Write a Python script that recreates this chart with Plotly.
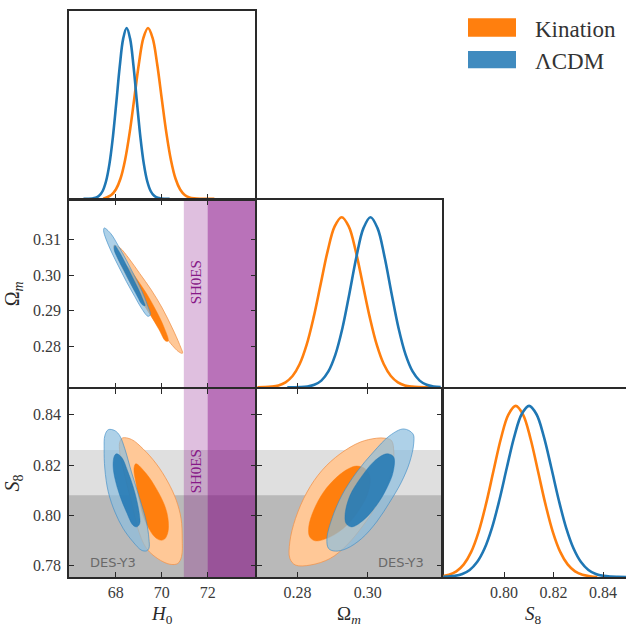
import plotly.graph_objects as go

# ---------------- data ----------------
models = ["Kination", "ΛCDM"]
param_labels = ["<i>H</i><sub>0</sub>", "Ω<sub><i>m</i></sub>", "<i>S</i><sub>8</sub>"]

h0_range = [65.96, 74.07]
om_range = [0.2684, 0.3211]
s8_range = [0.7754, 0.8504]

h0_ticks = [68, 70, 72]
om_ticks_x = [0.28, 0.30]
om_ticks_y = [0.28, 0.29, 0.30, 0.31]
s8_ticks_y = [0.78, 0.80, 0.82, 0.84]
s8_ticks_x = [0.80, 0.82, 0.84]

# external constraints
shoes_mean, shoes_sigma = 73.04, 1.04
des_mean, des_sigma = 0.790, 0.018

# 1D marginals (normalised to peak 1)
h0_kin_x = [67.45, 67.60, 67.80, 68.00, 68.20, 68.40, 68.60, 68.80, 69.00, 69.20, 69.40, 69.60,
            69.80, 70.00, 70.20, 70.40, 70.60, 70.80, 71.00, 71.20, 71.40, 71.70, 72.29]
h0_kin_p = [0, 0.008, 0.022, 0.054, 0.117, 0.226, 0.386, 0.585, 0.788, 0.942, 1.0, 0.942,
            0.788, 0.585, 0.386, 0.226, 0.117, 0.054, 0.022, 0.008, 0.0026, 0.0003, 0]
h0_lcdm_x = [66.59, 66.97, 67.12, 67.27, 67.42, 67.57, 67.72, 67.87, 68.02, 68.17, 68.32, 68.47,
             68.62, 68.77, 68.92, 69.07, 69.22, 69.37, 69.52, 69.67, 69.82, 69.97, 70.34]
h0_lcdm_p = [0, 0.0017, 0.0057, 0.017, 0.044, 0.101, 0.203, 0.360, 0.563, 0.775, 0.938, 1.0,
             0.938, 0.775, 0.563, 0.360, 0.203, 0.101, 0.044, 0.017, 0.0057, 0.0017, 0]

om_kin_x = [0.2686, 0.2706, 0.2726, 0.2746, 0.2766, 0.2786, 0.2806, 0.2826, 0.2846, 0.2866, 0.2886, 0.2906,
            0.2926, 0.2946, 0.2966, 0.2986, 0.3006, 0.3026, 0.3046, 0.3066, 0.3086, 0.3106, 0.3126,
            0.3146, 0.3166, 0.3190]
om_kin_p = [0.0003, 0.0012, 0.0039, 0.011, 0.029, 0.066, 0.135, 0.249, 0.411, 0.606, 0.801, 0.946,
            1.0, 0.946, 0.801, 0.606, 0.411, 0.249, 0.135, 0.066, 0.029, 0.011, 0.0039,
            0.0012, 0.0003, 0]
om_lcdm_x = [0.2771, 0.2788, 0.2808, 0.2828, 0.2848, 0.2868, 0.2888, 0.2908, 0.2928, 0.2948, 0.2968, 0.2988,
             0.3008, 0.3028, 0.3048, 0.3068, 0.3088, 0.3108, 0.3128, 0.3148, 0.3168, 0.3188, 0.3208]
om_lcdm_p = [0, 0.0003, 0.0013, 0.0047, 0.0145, 0.039, 0.093, 0.192, 0.347, 0.552, 0.768, 0.936,
             1.0, 0.936, 0.768, 0.552, 0.347, 0.192, 0.093, 0.039, 0.0145, 0.0047, 0.0013]

s8_kin_x = [0.7747, 0.7777, 0.7807, 0.7837, 0.7867, 0.7897, 0.7927, 0.7957, 0.7987, 0.8017, 0.8047,
            0.8077, 0.8107, 0.8137, 0.8167, 0.8197, 0.8227, 0.8257, 0.8287, 0.8317, 0.8347, 0.8377]
s8_kin_p = [0.0049, 0.0134, 0.033, 0.074, 0.147, 0.264, 0.427, 0.619, 0.808, 0.948, 1.0,
            0.948, 0.808, 0.619, 0.427, 0.264, 0.147, 0.074, 0.033, 0.0134, 0.0049, 0]
s8_lcdm_x = [0.7741, 0.7771, 0.7801, 0.7831, 0.7861, 0.7891, 0.7921, 0.7951, 0.7981, 0.8011, 0.8041, 0.8071,
             0.8101, 0.8131, 0.8161, 0.8191, 0.8221, 0.8251, 0.8281, 0.8311, 0.8341, 0.8371, 0.8401,
             0.8431, 0.8461, 0.8493]
s8_lcdm_p = [0.0008, 0.0024, 0.0068, 0.0176, 0.041, 0.087, 0.166, 0.287, 0.450, 0.638, 0.819, 0.951,
             1.0, 0.951, 0.819, 0.638, 0.450, 0.287, 0.166, 0.087, 0.041, 0.0176, 0.0068,
             0.0024, 0.0008, 0]

# 2D contours (68% inner, 95% outer) : H0 - Omega_m
h0om_kin95_h0 = [67.913, 68.173, 68.577, 69.039, 69.544, 70.020, 70.453, 70.771, 70.900, 70.742, 70.381,
                 69.977, 69.544, 69.111, 68.678, 68.317, 68.029]
h0om_kin95_om = [0.30836, 0.30771, 0.30464, 0.30046, 0.29582, 0.29071, 0.28514, 0.28050, 0.27799, 0.27837,
                 0.28078, 0.28422, 0.28839, 0.29276, 0.29721, 0.30158, 0.30557]
h0om_kin68_h0 = [68.346, 68.534, 68.895, 69.328, 69.732, 70.078, 70.280, 70.165, 69.876, 69.544, 69.154,
                 68.779, 68.491, 68.317]
h0om_kin68_om = [0.30325, 0.30232, 0.29907, 0.29489, 0.29025, 0.28561, 0.28143, 0.28143, 0.28468, 0.28839,
                 0.29257, 0.29675, 0.30046, 0.30251]
h0om_lcdm95_h0 = [67.495, 67.769, 68.101, 68.462, 68.794, 69.111, 69.371, 69.501, 69.400, 69.111, 68.823,
                  68.462, 68.130, 67.812, 67.567, 67.466]
h0om_lcdm95_om = [0.31328, 0.31179, 0.30836, 0.30418, 0.30000, 0.29582, 0.29164, 0.28886, 0.28839, 0.29071,
                  0.29396, 0.29814, 0.30232, 0.30650, 0.31021, 0.31253]
h0om_lcdm68_h0 = [67.957, 68.115, 68.390, 68.678, 68.967, 69.183, 69.270, 69.154, 68.924, 68.635, 68.346,
                  68.087, 67.928]
h0om_lcdm68_om = [0.30836, 0.30696, 0.30371, 0.30000, 0.29629, 0.29304, 0.29136, 0.29164, 0.29415, 0.29768,
                  0.30139, 0.30464, 0.30715]

# H0 - S8
h0s8_kin95_h0 = [68.29, 68.68, 69.18, 69.76, 70.27, 70.63, 70.84, 70.89, 70.86, 70.70, 70.41, 70.05, 69.62,
                 69.33, 69.11, 68.92, 68.75, 68.53, 68.32, 68.17, 68.17]
h0s8_kin95_s8 = [0.8308, 0.8302, 0.8265, 0.8205, 0.8132, 0.8060, 0.7987, 0.7907, 0.7835, 0.7808, 0.7804,
                 0.7815, 0.7841, 0.7868, 0.7907, 0.7960, 0.8026, 0.8106, 0.8185, 0.8251, 0.8291]
h0s8_kin68_h0 = [68.87, 69.33, 69.76, 70.12, 70.27, 70.27, 70.12, 69.93, 69.69, 69.44, 69.18, 69.01, 68.87, 68.79]
h0s8_kin68_s8 = [0.8205, 0.8165, 0.8106, 0.8040, 0.7987, 0.7934, 0.7905, 0.7901, 0.7914, 0.7947, 0.8000,
                 0.8066, 0.8132, 0.8185]
h0s8_lcdm95_h0 = [67.67, 67.96, 68.17, 68.39, 68.68, 69.04, 69.33, 69.44, 69.44, 69.33, 69.11, 68.75, 68.32,
                  67.96, 67.67, 67.52, 67.49, 67.52]
h0s8_lcdm95_s8 = [0.8341, 0.8337, 0.8317, 0.8265, 0.8172, 0.8066, 0.7974, 0.7907, 0.7868, 0.7858, 0.7861,
                  0.7894, 0.7947, 0.8013, 0.8093, 0.8185, 0.8265, 0.8317]
h0s8_lcdm68_h0 = [68.03, 68.25, 68.53, 68.82, 69.01, 69.04, 68.92, 68.75, 68.46, 68.17, 67.96, 67.88, 67.93]
h0s8_lcdm68_s8 = [0.8245, 0.8231, 0.8172, 0.8093, 0.8013, 0.7967, 0.7954, 0.7960, 0.8013, 0.8079, 0.8146,
                  0.8198, 0.8235]

# Omega_m - S8
oms8_kin95_om = [0.30489, 0.30678, 0.30744, 0.30706, 0.30537, 0.30254, 0.29876, 0.29405, 0.28934, 0.28368,
                 0.27943, 0.27783, 0.27783, 0.27943, 0.28273, 0.28698, 0.29216, 0.29782, 0.30254]
oms8_kin95_s8 = [0.83069, 0.82976, 0.82513, 0.81852, 0.81190, 0.80397, 0.79603, 0.78810, 0.78280, 0.78016,
                 0.78016, 0.78280, 0.78942, 0.79868, 0.80926, 0.81786, 0.82447, 0.82910, 0.83069]
oms8_kin68_om = [0.29688, 0.29924, 0.30065, 0.30018, 0.29782, 0.29405, 0.28934, 0.28509, 0.28349, 0.28321,
                 0.28462, 0.28745, 0.29122, 0.29452]
oms8_kin68_s8 = [0.81958, 0.81852, 0.81521, 0.80926, 0.80265, 0.79603, 0.79140, 0.78981, 0.79140, 0.79537,
                 0.80198, 0.80926, 0.81521, 0.81852]
oms8_lcdm95_om = [0.31027, 0.31291, 0.31310, 0.31197, 0.30961, 0.30631, 0.30254, 0.29829, 0.29405, 0.29075,
                  0.28886, 0.28839, 0.28981, 0.29264, 0.29688, 0.30159, 0.30631]
oms8_lcdm95_s8 = [0.83439, 0.83241, 0.82844, 0.82116, 0.81323, 0.80529, 0.79735, 0.79074, 0.78677, 0.78571,
                  0.78677, 0.79074, 0.79868, 0.80794, 0.81720, 0.82513, 0.83175]
oms8_lcdm68_om = [0.30584, 0.30744, 0.30725, 0.30537, 0.30254, 0.29876, 0.29546, 0.29386, 0.29358, 0.29499,
                  0.29782, 0.30159, 0.30442]
oms8_lcdm68_s8 = [0.82447, 0.82315, 0.81720, 0.81058, 0.80397, 0.79802, 0.79537, 0.79669, 0.80066, 0.80794,
                  0.81455, 0.82116, 0.82407]

# ---------------- styles ----------------
W, H = 626, 628
SERIF = "Liberation Serif"
AXC = "#2a2a2a"
LW = 1.5
line_col = {"Kination": "#ff7f0e", "ΛCDM": "#1f77b4"}
fill95 = {"Kination": "rgb(255,200,151)", "ΛCDM": "rgba(140,190,222,0.70)"}
fill68 = {"Kination": "rgb(255,127,14)", "ΛCDM": "rgba(31,119,180,0.85)"}
edge95 = {"Kination": "rgba(240,150,80,0.9)", "ΛCDM": "rgba(60,140,200,0.7)"}
legend_fill = {"Kination": "rgb(255,127,14)", "ΛCDM": "rgba(31,119,180,0.85)"}

COL = [69, 256, 442.5, 626]
ROW = [11, 199.5, 388, 577]


def xdom(c):
    a = COL[c] + (LW / 2 if c > 0 else 0)
    b = COL[c + 1] - (LW / 2 if c + 1 < 3 else 0)
    return [a / W, b / W]


def ydom(r):
    top = ROW[r] + (LW / 2 if r > 0 else 0)
    bot = ROW[r + 1] - (LW / 2 if r + 1 < 3 else 0)
    return [1 - bot / H, 1 - top / H]


def closed(xs, ys):
    k = len(xs) // 4
    xs = list(xs[k:]) + list(xs[:k])
    ys = list(ys[k:]) + list(ys[:k])
    return xs + xs[:1], ys + ys[:1]


fig = go.Figure()

# 1D marginals
oned = [
    ("x", "y", {"Kination": (h0_kin_x, h0_kin_p), "ΛCDM": (h0_lcdm_x, h0_lcdm_p)}),
    ("x3", "y3", {"Kination": (om_kin_x, om_kin_p), "ΛCDM": (om_lcdm_x, om_lcdm_p)}),
    ("x6", "y6", {"Kination": (s8_kin_x, s8_kin_p), "ΛCDM": (s8_lcdm_x, s8_lcdm_p)}),
]
for xa, ya, series in oned:
    for m in models:
        xs, ps = series[m]
        fig.add_trace(go.Scatter(x=xs, y=ps, mode="lines", xaxis=xa, yaxis=ya,
                                 line=dict(color=line_col[m], width=2.6, shape="spline", smoothing=1.0),
                                 showlegend=False, hoverinfo="skip"))

# 2D contours
twod = [
    ("x2", "y2", {"Kination": [(h0om_kin95_h0, h0om_kin95_om), (h0om_kin68_h0, h0om_kin68_om)],
                  "ΛCDM": [(h0om_lcdm95_h0, h0om_lcdm95_om), (h0om_lcdm68_h0, h0om_lcdm68_om)]}),
    ("x4", "y4", {"Kination": [(h0s8_kin95_h0, h0s8_kin95_s8), (h0s8_kin68_h0, h0s8_kin68_s8)],
                  "ΛCDM": [(h0s8_lcdm95_h0, h0s8_lcdm95_s8), (h0s8_lcdm68_h0, h0s8_lcdm68_s8)]}),
    ("x5", "y5", {"Kination": [(oms8_kin95_om, oms8_kin95_s8), (oms8_kin68_om, oms8_kin68_s8)],
                  "ΛCDM": [(oms8_lcdm95_om, oms8_lcdm95_s8), (oms8_lcdm68_om, oms8_lcdm68_s8)]}),
]
for xa, ya, series in twod:
    for m in models:
        (ox, oy), (ix, iy) = series[m]
        cx, cy = closed(ox, oy)
        fig.add_trace(go.Scatter(x=cx, y=cy, mode="lines", fill="toself", fillcolor=fill95[m],
                                 xaxis=xa, yaxis=ya, showlegend=False, hoverinfo="skip",
                                 line=dict(color=edge95[m], width=0.9, shape="spline", smoothing=1.0)))
        cx, cy = closed(ix, iy)
        fig.add_trace(go.Scatter(x=cx, y=cy, mode="lines", fill="toself", fillcolor=fill68[m],
                                 xaxis=xa, yaxis=ya, showlegend=False, hoverinfo="skip",
                                 line=dict(color=fill68[m], width=0.5, shape="spline", smoothing=1.0)))

# bands
shapes = []
for xa, ya in [("x4", "y4"), ("x5", "y5")]:
    for nsig, alpha in [(2, 0.25), (1, 0.40)]:
        shapes.append(dict(type="rect", xref=f"{xa} domain", yref=ya, x0=0, x1=1,
                           y0=des_mean - nsig * des_sigma, y1=des_mean + nsig * des_sigma,
                           fillcolor=f"rgba(128,128,128,{alpha})", line=dict(width=0), layer="below"))
for xa, ya in [("x2", "y2"), ("x4", "y4")]:
    for nsig, alpha in [(2, 0.25), (1, 0.40)]:
        shapes.append(dict(type="rect", xref=xa, yref=f"{ya} domain",
                           x0=shoes_mean - nsig * shoes_sigma, x1=shoes_mean + nsig * shoes_sigma,
                           y0=0, y1=1,
                           fillcolor=f"rgba(128,0,128,{alpha})", line=dict(width=0), layer="below"))

# manual legend
leg_rows = [(18.3, 36.7), (51.0, 68.3)]
annotations = []
for m, (t, b) in zip(models, leg_rows):
    shapes.append(dict(type="rect", xref="paper", yref="paper", x0=468 / W, x1=516 / W,
                       y0=1 - b / H, y1=1 - t / H, fillcolor=legend_fill[m], line=dict(width=0)))
    annotations.append(dict(xref="paper", yref="paper", x=533 / W, y=1 - ((t + b) / 2 + 1.5) / H,
                            text=m, showarrow=False, xanchor="left", yanchor="middle",
                            font=dict(family=SERIF, size=23, color="#333")))

# labels on bands
for xa, ya in [("x2", "y2"), ("x4", "y4")]:
    annotations.append(dict(xref=xa, yref=f"{ya} domain", x=shoes_mean - 1.5 * shoes_sigma, y=0.56,
                            text="SH0ES", textangle=-90, showarrow=False,
                            xanchor="center", yanchor="middle",
                            font=dict(family=SERIF, size=15, color="rgb(135,25,135)")))
for xa, ya, xf in [("x4", "y4", 0.238), ("x5", "y5", 0.78)]:
    annotations.append(dict(xref=f"{xa} domain", yref=f"{ya} domain", x=xf, y=0.079,
                            text="DES-Y3", showarrow=False, xanchor="center", yanchor="middle",
                            font=dict(family="DejaVu Sans", size=13, color="rgb(105,105,105)")))

# bottom-row axis titles (placed below the tick labels)
for c, lab in enumerate(param_labels):
    annotations.append(dict(xref="paper", yref="paper", x=sum(xdom(c)) / 2 + (0 if c < 2 else -1.5 / W),
                            y=1 - 602 / H, text=lab, showarrow=False, xanchor="center", yanchor="top",
                            borderpad=0, font=dict(family=SERIF, size=19, color="#2a2a2a")))


def axis(dom, rng, ticks, showlabels, anchor, title=None, ticksdraw=True, mirror="allticks", fmt=None):
    d = dict(domain=dom, range=rng, anchor=anchor, showgrid=False, zeroline=False, automargin=False,
             showline=True, linecolor=AXC, linewidth=LW, mirror=mirror,
             tickmode="array", tickvals=ticks if ticksdraw else [],
             ticks="inside" if ticksdraw else "", ticklen=5, tickwidth=1.2, tickcolor=AXC,
             showticklabels=showlabels, tickfont=dict(family=SERIF, size=16, color="#3a3a3a"))
    if fmt:
        d["tickformat"] = fmt
    if title:
        d["title"] = dict(text=title, font=dict(family=SERIF, size=20, color="#2a2a2a"), standoff=8)
    return d


layout = dict(
    width=W, height=H, margin=dict(l=0, r=0, t=0, b=0, autoexpand=False), autosize=False,
    paper_bgcolor="white", plot_bgcolor="white", showlegend=False,
    shapes=shapes, annotations=annotations,
    # H0 1D
    xaxis=axis(xdom(0), h0_range, h0_ticks, False, "y", mirror=True),
    yaxis=axis(ydom(0), [0, 1.1], [], False, "x", ticksdraw=False, mirror=True),
    # H0 - Om
    xaxis2=axis(xdom(0), h0_range, h0_ticks, False, "y2"),
    yaxis2=axis(ydom(1), om_range, om_ticks_y, True, "x2", title=param_labels[1], fmt=".2f"),
    # Om 1D
    xaxis3=axis(xdom(1), om_range, om_ticks_x, False, "y3", mirror=True),
    yaxis3=axis(ydom(1), [0, 1.1], [], False, "x3", ticksdraw=False, mirror=True),
    # H0 - S8
    xaxis4=axis(xdom(0), h0_range, h0_ticks, True, "y4"),
    yaxis4=axis(ydom(2), s8_range, s8_ticks_y, True, "x4", title=param_labels[2], fmt=".2f"),
    # Om - S8
    xaxis5=axis(xdom(1), om_range, om_ticks_x, True, "y5", fmt=".2f"),
    yaxis5=axis(ydom(2), s8_range, s8_ticks_y, False, "x5"),
    # S8 1D
    xaxis6=axis(xdom(2), [s8_range[0], s8_range[1] - 0.0011], s8_ticks_x, True, "y6",
                mirror=True, fmt=".2f"),
    yaxis6=axis(ydom(2), [0, 1.1], [], False, "x6", ticksdraw=False, mirror=False),
)
for k in ["xaxis4", "xaxis5", "xaxis6"]:
    layout[k]["ticklabelstandoff"] = 0
for k in ["yaxis2", "yaxis4"]:
    layout[k]["ticklabelstandoff"] = 3

fig.update_layout(**layout)
fig.write_html("out.html")
